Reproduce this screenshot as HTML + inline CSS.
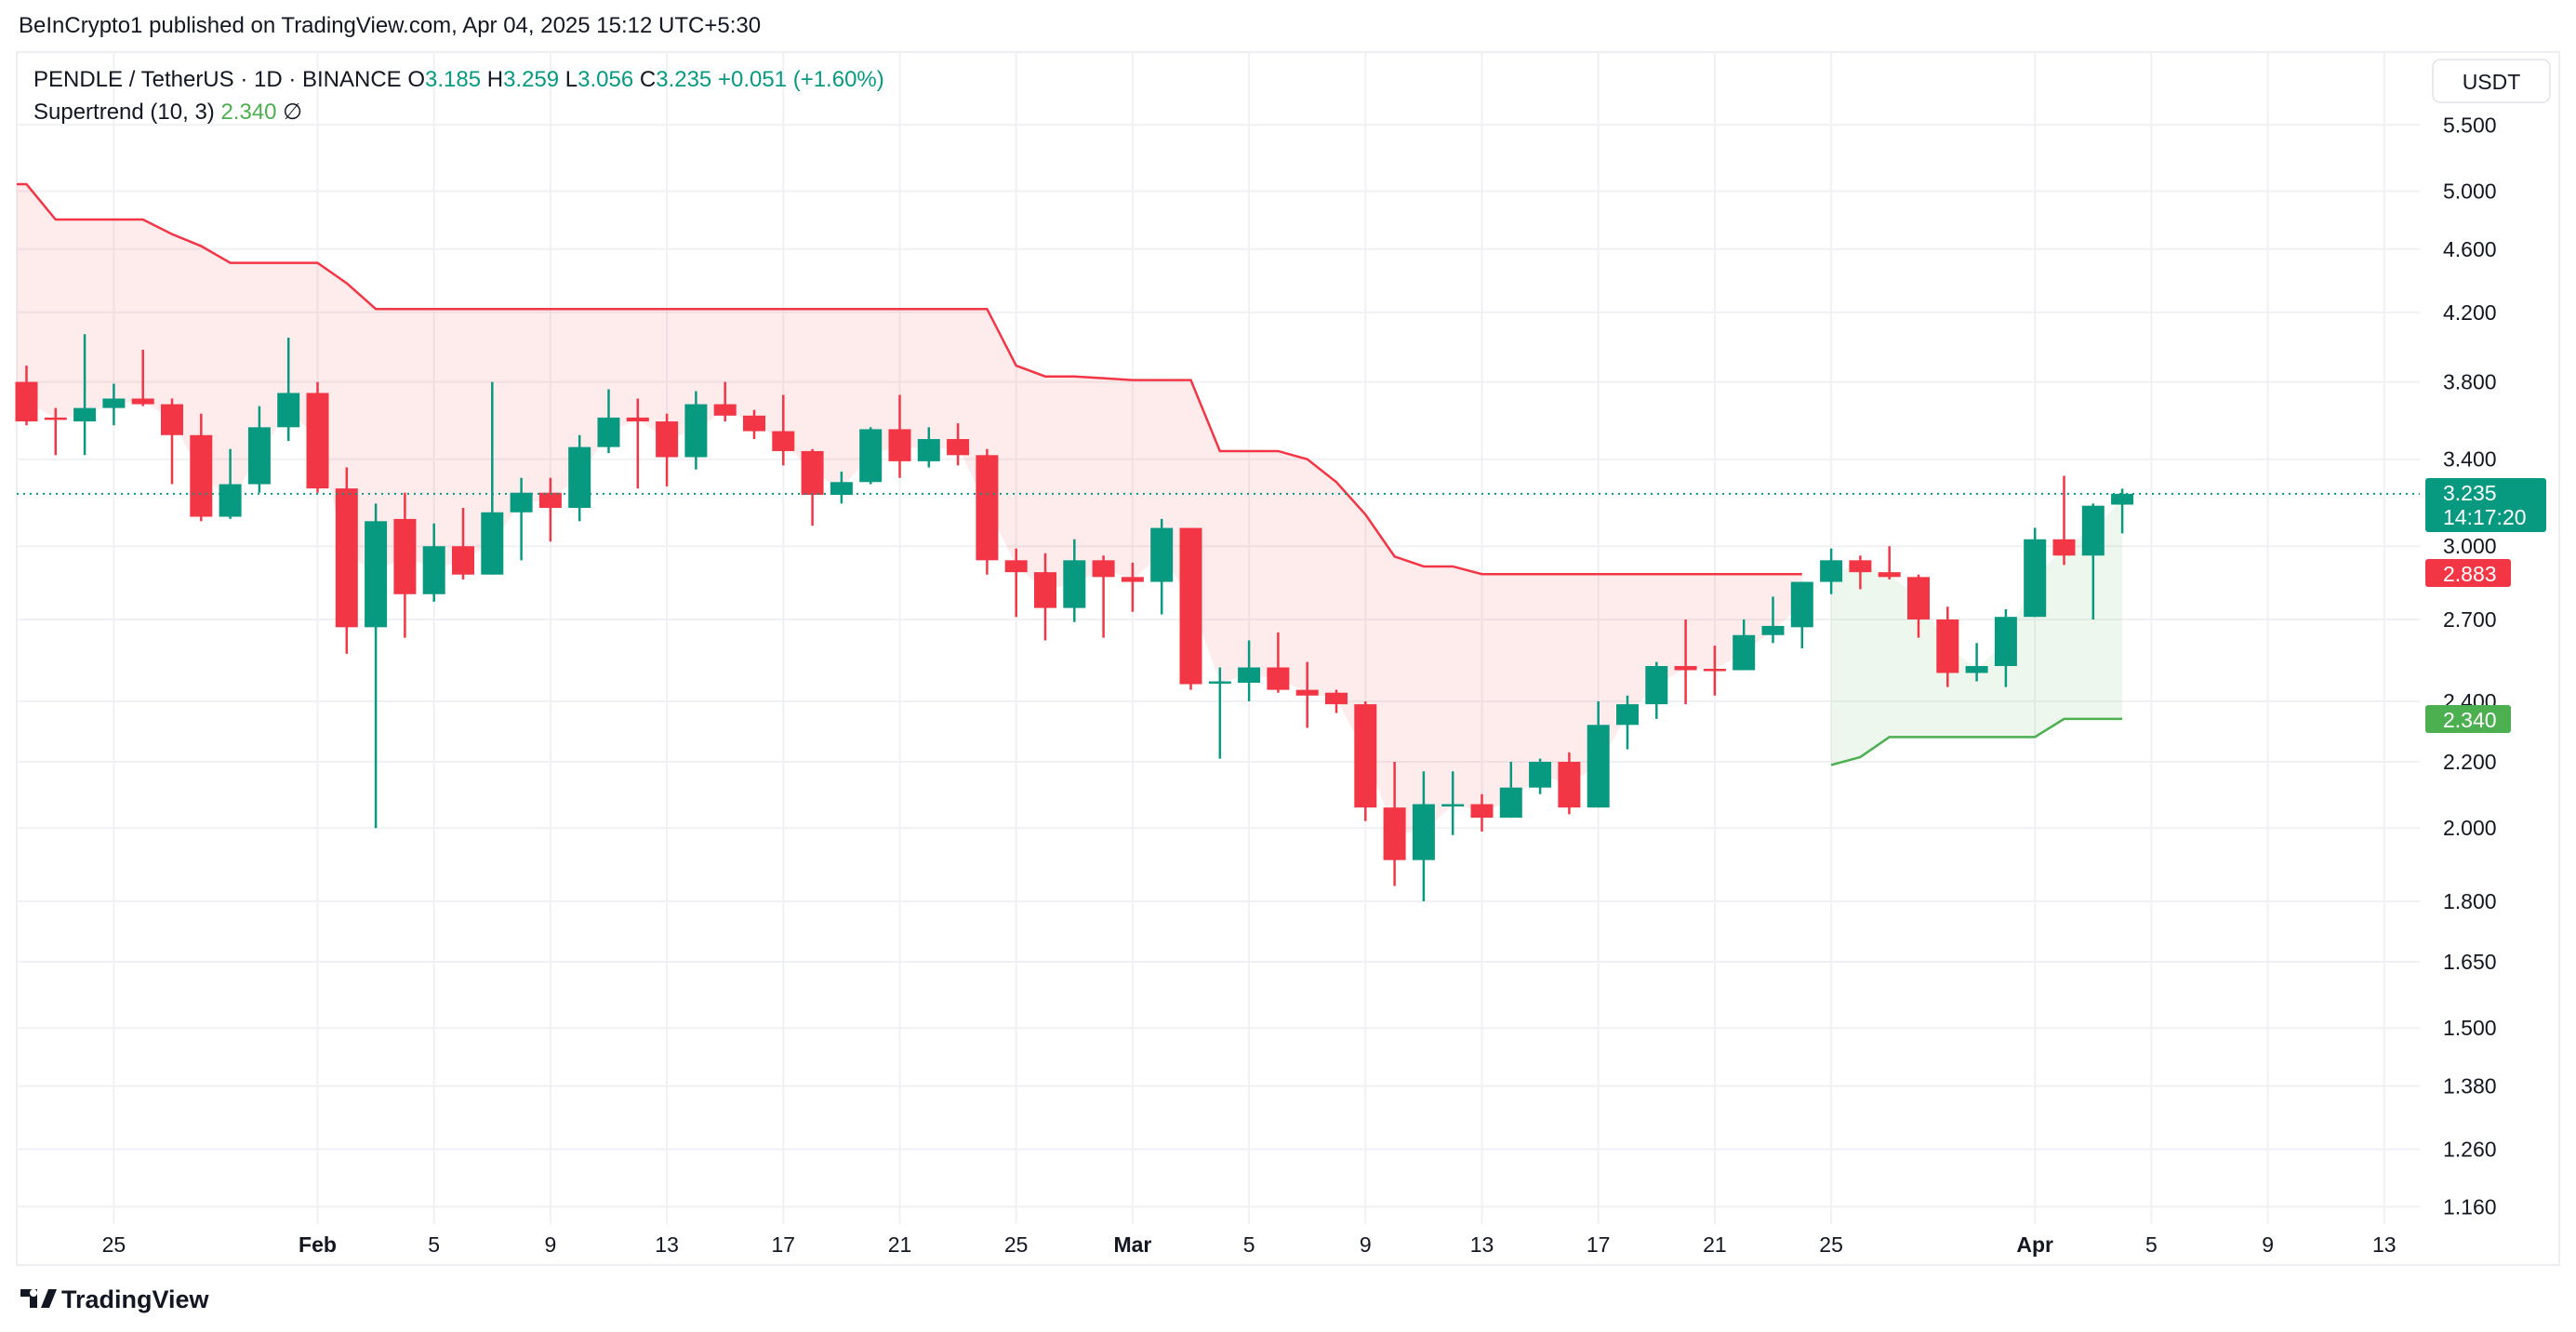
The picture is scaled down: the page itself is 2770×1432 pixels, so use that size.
<!DOCTYPE html>
<html><head><meta charset="utf-8">
<style>
html,body{margin:0;padding:0;background:#fff;}
body{width:2770px;height:1432px;overflow:hidden;position:relative;font-family:"Liberation Sans",sans-serif;color:#131722;}
#hdr{position:absolute;left:20px;top:14px;font-size:24px;}
#chart{position:absolute;left:0;top:0;}
</style></head><body>
<div id="hdr">BeInCrypto1 published on TradingView.com, Apr 04, 2025 15:12 UTC+5:30</div>
<svg id="chart" width="2770" height="1432" xmlns="http://www.w3.org/2000/svg"></svg>
<script>
const opens  = [3.80,3.61,3.59,3.66,3.71,3.68,3.52,3.13,3.28,3.56,3.74,3.26,2.67,3.12,2.80,3.00,2.88,3.15,3.24,3.17,3.46,3.61,3.59,3.41,3.68,3.62,3.54,3.44,3.23,3.29,3.55,3.39,3.50,3.42,2.94,2.89,2.745,2.94,2.87,2.85,3.08,2.465,2.465,2.52,2.44,2.43,2.39,2.06,1.91,2.065,2.07,2.03,2.12,2.20,2.06,2.32,2.39,2.525,2.515,2.51,2.64,2.67,2.85,2.94,2.89,2.87,2.70,2.50,2.525,2.71,3.03,2.96,3.185];
const highs  = [3.89,3.66,4.07,3.79,3.98,3.71,3.63,3.45,3.67,4.05,3.80,3.36,3.19,3.24,3.10,3.17,3.80,3.31,3.31,3.52,3.76,3.71,3.63,3.75,3.80,3.65,3.73,3.45,3.34,3.56,3.73,3.56,3.58,3.45,2.99,2.97,3.03,2.96,2.93,3.12,3.08,2.52,2.62,2.65,2.54,2.44,2.40,2.20,2.17,2.17,2.10,2.20,2.21,2.23,2.40,2.42,2.54,2.70,2.60,2.70,2.79,2.85,2.99,2.96,3.00,2.88,2.75,2.61,2.74,3.08,3.32,3.19,3.259];
const lows   = [3.57,3.42,3.42,3.57,3.67,3.28,3.11,3.12,3.24,3.49,3.24,2.57,2.00,2.63,2.77,2.86,2.88,2.94,3.02,3.11,3.43,3.26,3.27,3.35,3.59,3.50,3.37,3.09,3.19,3.28,3.31,3.36,3.37,2.88,2.71,2.62,2.69,2.63,2.73,2.72,2.44,2.21,2.40,2.43,2.31,2.36,2.02,1.84,1.80,1.98,1.99,2.03,2.10,2.04,2.06,2.24,2.34,2.39,2.42,2.51,2.61,2.59,2.80,2.82,2.86,2.63,2.45,2.47,2.45,2.71,2.92,2.70,3.056];
const closes = [3.59,3.60,3.66,3.71,3.68,3.52,3.13,3.28,3.56,3.74,3.26,2.67,3.11,2.80,3.00,2.88,3.15,3.24,3.17,3.46,3.61,3.59,3.41,3.68,3.62,3.54,3.44,3.23,3.29,3.55,3.39,3.50,3.42,2.94,2.89,2.745,2.94,2.87,2.85,3.08,2.46,2.47,2.52,2.44,2.42,2.39,2.06,1.91,2.07,2.07,2.03,2.12,2.20,2.06,2.32,2.39,2.525,2.51,2.51,2.64,2.675,2.85,2.94,2.89,2.87,2.70,2.50,2.525,2.71,3.03,2.96,3.18,3.235];
const stDown = [5.05,4.80,4.80,4.80,4.80,4.70,4.62,4.51,4.51,4.51,4.51,4.38,4.22,4.22,4.22,4.22,4.22,4.22,4.22,4.22,4.22,4.22,4.22,4.22,4.22,4.22,4.22,4.22,4.22,4.22,4.22,4.22,4.22,4.22,3.89,3.83,3.83,3.82,3.81,3.81,3.81,3.44,3.44,3.44,3.40,3.29,3.14,2.956,2.914,2.914,2.882,2.882,2.882,2.882,2.882,2.882,2.882,2.882,2.882,2.882,2.882,2.882];
const stUpStart = 62;
const stUp = [2.19,2.215,2.28,2.28,2.28,2.28,2.28,2.28,2.34,2.34,2.34];
const priceTicks = [5.5,5.0,4.6,4.2,3.8,3.4,3.0,2.7,2.4,2.2,2.0,1.8,1.65,1.5,1.38,1.26,1.16];
const dateTicks = [3,10,14,18,22,26,30,34,38,42,46,50,54,58,62,69,73,77,81];
const dateLabels = ["25","Feb","5","9","13","17","21","25","Mar","5","9","13","17","21","25","Apr","5","9","13"];

const NS="http://www.w3.org/2000/svg";
const svg=document.getElementById('chart');
const PL=18, PR=2602, PT=56, PB=1316;
function y(p){return 134.3+(1.7047-Math.log(p))*747.3;}
function x(i){return 28.5+i*31.3;}
function mk(tag,attrs,parent){const e=document.createElementNS(NS,tag);for(const k in attrs)e.setAttribute(k,attrs[k]);(parent||svg).appendChild(e);return e;}

// frame
let fr=mk('rect',{x:18,y:56,width:2734,height:1304,fill:'none',stroke:'#eceef2','stroke-width':2});



// grid
const grid=mk('g',{});


priceTicks.forEach(p=>{mk('line',{x1:PL,x2:PR,y1:y(p),y2:y(p),stroke:'#f0f1f4','stroke-width':2},grid);});
dateTicks.forEach(d=>{mk('line',{x1:x(d),x2:x(d),y1:PT,y2:PB,stroke:'#f0f1f4','stroke-width':2},grid);});

// supertrend fills
function mid(i){return (opens[i]+closes[i])/2;}
let dpts=[],dback=[];
dpts.push([PL,y(stDown[0])]);
stDown.forEach((v,i)=>{dpts.push([x(i),y(v)]);});
for(let i=stDown.length-1;i>=0;i--)dback.push([x(i),y(mid(i))]);
dback.push([PL,y(mid(0))]);
let f1=mk('polygon',{points:dpts.concat(dback).map(p=>p.join(',')).join(' '),fill:'rgba(242,54,69,0.1)'});


let upts=[],uback=[];
stUp.forEach((v,k)=>{upts.push([x(stUpStart+k),y(v)]);});
for(let k=stUp.length-1;k>=0;k--)uback.push([x(stUpStart+k),y(mid(stUpStart+k))]);
let f2=mk('polygon',{points:upts.concat(uback).map(p=>p.join(',')).join(' '),fill:'rgba(76,175,80,0.1)'});



// supertrend lines
let l1=mk('polyline',{points:dpts.map(p=>p.join(',')).join(' '),fill:'none',stroke:'#f23645','stroke-width':2.5});


let l2=mk('polyline',{points:upts.map(p=>p.join(',')).join(' '),fill:'none',stroke:'#4caf50','stroke-width':2.5});



// candles
const cg=mk('g',{});


opens.forEach((o,i)=>{
  const c=closes[i],col=c>=o?'#089981':'#f23645';
  const g=mk('g',{},cg);
  
  
  mk('line',{x1:x(i),x2:x(i),y1:y(highs[i]),y2:y(lows[i]),stroke:col,'stroke-width':2.5},g);
  const t=Math.min(y(o),y(c)),h=Math.max(Math.abs(y(o)-y(c)),2.5);
  mk('rect',{x:x(i)-12,y:t,width:24,height:h,fill:col},g);
});

// current price line
const last=closes[closes.length-1];
let pl=mk('line',{x1:PL,x2:PR,y1:y(last),y2:y(last),stroke:'#089981','stroke-width':2,'stroke-dasharray':'2 5'});



// price axis labels
const ax=mk('g',{'font-family':'Liberation Sans, sans-serif','font-size':23,fill:'#131722'});


priceTicks.forEach(p=>{const t=mk('text',{x:2627,y:y(p)+8},ax);t.textContent=p.toFixed(3);});

// usdt box
let ub=mk('rect',{x:2616,y:64,width:126,height:46,rx:8,fill:'#fff',stroke:'#e0e3eb','stroke-width':1.5});


let ut=mk('text',{x:2679,y:96,'text-anchor':'middle','font-size':23,fill:'#131722'});ut.textContent='USDT';

function badge(name,yc,h,w,col,lines){
  const g=mk('g',{});
  
  
  mk('rect',{x:2608,y:yc-h/2,width:w,height:h,rx:3,fill:col},g);
  lines.forEach((s,k)=>{const t=mk('text',{x:2627,y:yc-h/2+24+k*26,'font-size':23,fill:'#fff'},g);t.textContent=s;});
}
badge('current-price-badge',543,58,130,'#089981',[last.toFixed(3),'14:17:20']);
badge('supertrend-down-badge',616,30,92,'#f23645',['2.883']);
badge('supertrend-up-badge',773,30,92,'#4caf50',['2.340']);

// time axis
const tx=mk('g',{'font-size':23,fill:'#131722','text-anchor':'middle'});


dateTicks.forEach((d,k)=>{const t=mk('text',{x:x(d),y:1346,'font-weight':isNaN(+dateLabels[k])?'bold':'normal'},tx);t.textContent=dateLabels[k];});

// legend
const lg=mk('g',{'font-size':24});


let t1=mk('text',{x:36,y:93,fill:'#131722'},lg);
t1.innerHTML='PENDLE / TetherUS · 1D · BINANCE  <tspan>O</tspan><tspan fill="#089981">3.185</tspan>  H<tspan fill="#089981">3.259</tspan>  L<tspan fill="#089981">3.056</tspan>  C<tspan fill="#089981">3.235</tspan>  <tspan fill="#089981">+0.051 (+1.60%)</tspan>';
t1.setAttribute('xml:space','preserve');
let t2=mk('text',{x:36,y:128,fill:'#131722'},lg);
t2.setAttribute('xml:space','preserve');
t2.innerHTML='Supertrend (10, 3)  <tspan fill="#4caf50">2.340</tspan>  ∅';

// footer
const ft=mk('g',{});


mk('path',{d:'M22 1386h18v20h-8v-12h-10z M44 1406l8-20h9l-8 20z M36 1386a4 4 0 1 0 0.1 0',fill:'#131722'},ft);
let ftt=mk('text',{x:66,y:1406,'font-size':27,'font-weight':'bold',fill:'#131722'},ft);ftt.textContent='TradingView';
</script>
</body></html>
